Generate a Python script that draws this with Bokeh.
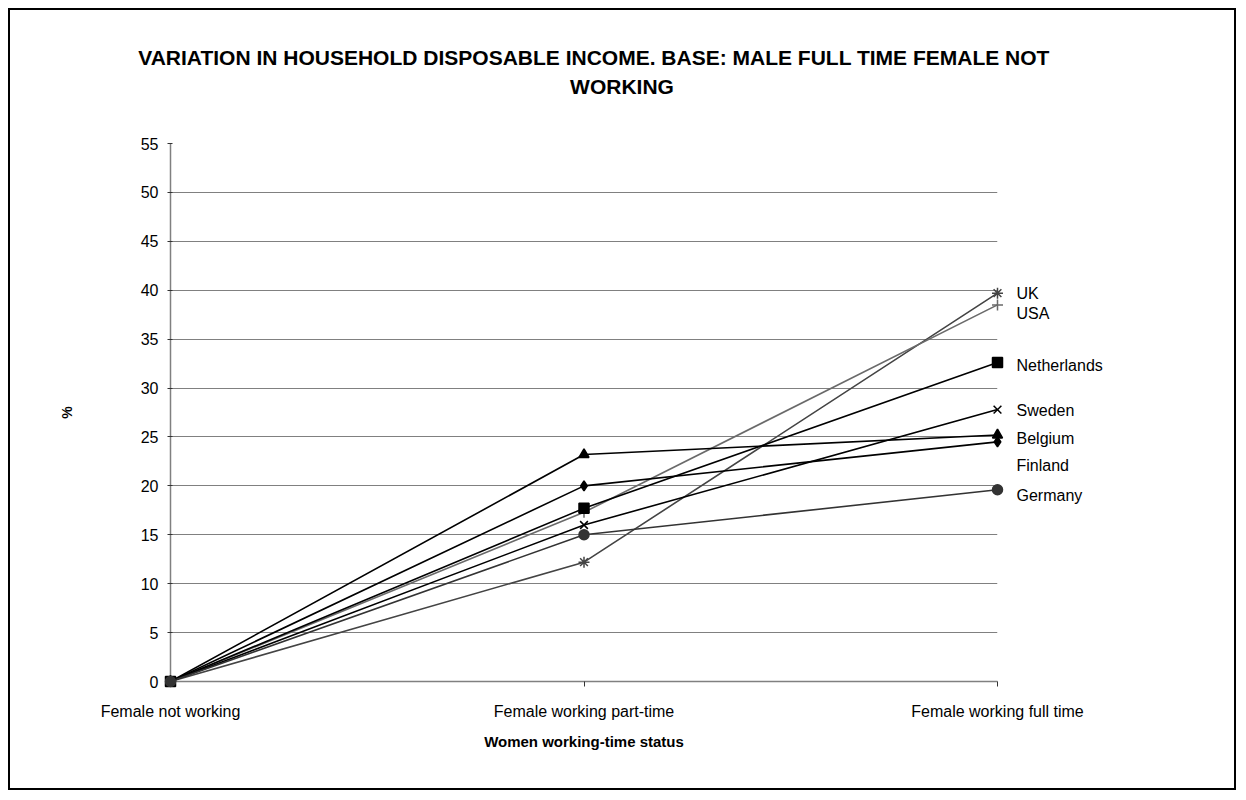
from bokeh.plotting import figure
from bokeh.models import Range1d, FixedTicker, ColumnDataSource
from bokeh.core.properties import value
from bokeh.embed import file_html
from bokeh.resources import INLINE

# ---- data ----
categories = ["Female not working", "Female working part-time", "Female working full time"]
countries = ["UK", "USA", "Netherlands", "Sweden", "Belgium", "Finland", "Germany"]
uk = [0, 12.2, 39.7]
usa = [0, 17.3, 38.5]
netherlands = [0, 17.7, 32.6]
sweden = [0, 16.0, 27.8]
belgium = [0, 20.0, 24.5]
finland = [0, 23.2, 25.2]
germany = [0, 15.0, 19.6]
y_ticks = list(range(0, 60, 5))

title_lines = ["VARIATION IN HOUSEHOLD DISPOSABLE INCOME. BASE: MALE FULL TIME FEMALE NOT",
               "WORKING"]
x_title = "Women working-time status"
y_title = "%"

# ---- styles ----
series = [
    (uk, "asterisk", "#444444"),
    (usa, "cross", "#6a6a6a"),
    (netherlands, "square", "#000000"),
    (sweden, "x", "#000000"),
    (belgium, "diamond", "#000000"),
    (finland, "triangle", "#000000"),
    (germany, "circle", "#333333"),
]
# downward pixel shift of each end label from its last point
label_dy = {"UK": 0, "USA": 9, "Netherlands": 3, "Sweden": 1,
            "Belgium": -3, "Finland": 31, "Germany": 6}
title_dx = [10, 38]
title_dy = [-86, -57]
FONT = "Liberation Sans"

p = figure(width=1228, height=782, output_backend="svg", toolbar_location=None,
           x_range=Range1d(0, len(categories) - 1), y_range=Range1d(y_ticks[0], y_ticks[-1]),
           min_border_left=160, min_border_right=241, min_border_top=133, min_border_bottom=111)
p.styles = {"border": "2px solid black", "margin-left": "8px", "margin-top": "8px"}
p.outline_line_color = None
p.background_fill_color = "white"
p.border_fill_color = "white"

p.xgrid.grid_line_color = None
p.ygrid.grid_line_color = "#808080"
p.ygrid.grid_line_width = 1.2
p.ygrid.ticker = FixedTicker(ticks=y_ticks)

p.yaxis.ticker = FixedTicker(ticks=y_ticks)
p.xaxis.ticker = FixedTicker(ticks=list(range(len(categories))))
p.xaxis.major_label_overrides = {i: c for i, c in enumerate(categories)}

for ax in (p.xaxis[0], p.yaxis[0]):
    ax.axis_line_color = "#808080"
    ax.axis_line_width = 1.5
    ax.major_tick_line_color = "#333333"
    ax.minor_tick_line_color = None
    ax.major_label_text_font = FONT
    ax.major_label_text_font_size = "16px"
    ax.major_label_text_color = "black"
    ax.axis_label_text_font = FONT
    ax.axis_label_text_font_style = "bold"
    ax.axis_label_text_color = "black"

p.xaxis.major_tick_in = 0
p.xaxis.major_tick_out = 5
p.xaxis.major_label_standoff = 16
p.xaxis.axis_label = x_title
p.xaxis.axis_label_text_font_size = "15px"
p.xaxis.axis_label_standoff = 10

p.yaxis.major_tick_in = 2
p.yaxis.major_tick_out = 3
p.yaxis.major_label_standoff = 9
p.yaxis.axis_label = y_title
p.yaxis.axis_label_text_font_size = "14px"
p.yaxis.axis_label_standoff = 63

xs = list(range(len(categories)))
for vals, marker, color in series:
    p.line(xs, vals, line_color=color, line_width=1.6)
for vals, marker, color in series:
    r = p.scatter(xs, vals, marker=marker, size=11 if marker in ("x", "asterisk", "cross") else 10,
                  line_color=color, fill_color=color, line_width=1.5)
    r.level = "overlay"

last = len(categories) - 1
src = ColumnDataSource(dict(
    x=[last] * len(countries),
    y=[s[0][-1] for s in series],
    name=countries,
    dy=[label_dy[c] for c in countries],
))
r = p.text(x="x", y="y", text="name", source=src, x_offset=19, y_offset="dy",
           text_baseline="middle", text_align="left", text_font=value(FONT),
           text_font_size="16px", text_color="black")
r.level = "overlay"

tsrc = ColumnDataSource(dict(
    x=[(len(categories) - 1) / 2] * len(title_lines),
    y=[y_ticks[-1]] * len(title_lines),
    text=title_lines,
    dx=title_dx,
    dy=title_dy,
))
r = p.text(x="x", y="y", text="text", source=tsrc, x_offset="dx", y_offset="dy",
           text_baseline="middle", text_align="center", text_font=value(FONT),
           text_font_style="bold", text_font_size="21px", text_color="black")
r.level = "overlay"

open("out.html", "w").write(file_html(p, INLINE))
